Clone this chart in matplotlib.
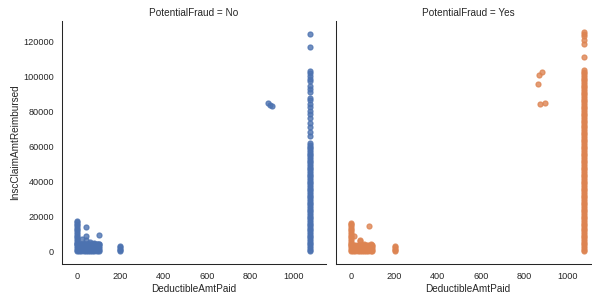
import matplotlib
matplotlib.use("Agg")
import matplotlib.pyplot as plt

# Deductible paid vs. amount reimbursed, split by PotentialFraud
FRAUD_LABELS = ["No", "Yes"]
COLORS = ["#4C72B0", "#DD8452"]
MAX_DEDUCTIBLE = 1080

# ---- PotentialFraud = No ----
# solid block of small deductibles: every x in no_block_x with every y in no_block_y
no_block_x = [0, 10, 20, 30, 40, 50, 60, 70, 80, 90, 100]
no_block_y = [0, 1000, 2000, 3000, 4000, 4500]
# single points / short columns
no_pts_x = [0, 0, 0, 0, 0, 0, 0, 0, 0, 0, 0, 0, 0, 0,
            23, 43, 43, 43, 99, 60, 80,
            200, 200, 200, 200, 200,
            885, 895, 902]
no_pts_y = [5000, 6000, 7000, 8000, 9000, 10000, 11000, 12000, 13000, 14000, 15000, 16000, 17000, 17500,
            7200, 14100, 8600, 6800, 9500, 5200, 5000,
            0, 800, 1600, 2400, 3200,
            84800, 83900, 83200]
# column at the maximum deductible
no_max_y = [124500, 117000, 103500, 102000, 100500, 99000, 97500, 95000, 93000, 91500,
            88000, 86500, 84500, 82500, 80500, 78500, 76500, 73500, 71000, 68500, 66000,
            62000, 61000, 60000, 59000, 58000, 57000, 56000, 55000, 54000, 53000,
            52000, 51000, 50000, 49000, 48000, 47000, 46000, 45000, 44000, 43000,
            42000, 41000, 40000, 39000, 38000, 37000, 36000, 35000, 34000, 33000,
            32000, 31000, 30000, 29000, 28000, 27000, 26000, 25000, 24000, 23000,
            22000, 21000, 20000, 19000, 18000, 17000, 16000, 15000, 14000, 13000,
            12000, 11000, 10000, 9000, 8000, 7000, 6000, 5000, 4000, 3000,
            2000, 1000, 0]

# ---- PotentialFraud = Yes ----
yes_block_x = [0, 10, 20, 30, 40, 50, 60, 70, 80, 90, 98]
yes_block_y = [0, 1000, 2000, 3000, 3500]
yes_pts_x = [0, 0, 0, 0, 0, 0, 0, 0, 0, 0, 0, 0, 0, 0,
             15, 40, 43, 81, 60, 90,
             205, 205, 205, 205, 205,
             870, 882, 866, 876, 896]
yes_pts_y = [4000, 5000, 6000, 7000, 8000, 9000, 10000, 11000, 12000, 13000, 14000, 15000, 16000, 16500,
             8600, 6700, 5900, 14300, 4300, 4200,
             0, 800, 1600, 2400, 3200,
             101000, 102500, 95800, 84500, 85300]
yes_max_y = [125500, 124500, 123500, 121000, 119000, 111500,
             104000, 103000, 102000, 101000, 100000, 99000, 98000, 97000, 96000, 95000,
             94000, 93000, 92000, 91000, 90000, 89000, 88000, 87000, 86000, 85000,
             84000, 83000, 82000, 81000, 80000, 79000, 78000, 77000, 76000, 75000,
             74000, 73000, 72000, 71000, 70000, 69000, 68000, 67000, 66000, 65000,
             64000, 63000, 62000, 61000, 60000, 59000, 58000, 57000, 56000, 55000,
             54000, 53000, 52000, 51000, 50000, 49000, 48000, 47000, 46000, 45000,
             44000, 43000, 42000, 41000, 40000, 39000, 38000, 37000, 36000, 35000,
             34000, 33000, 32000, 31000, 30000, 29000, 28000, 27000, 26000, 25000,
             24000, 23000, 22000, 21000, 20000, 19000, 18000, 17000, 16000, 15000,
             14000, 13000, 12000, 11000, 10000, 9000, 8000, 7000, 6000, 5000,
             4000, 3000, 2000, 1000, 0]

X_TICKS = [0, 200, 400, 600, 800, 1000]
Y_TICKS = [0, 20000, 40000, 60000, 80000, 100000, 120000]

TEXT_COLOR = "#262626"

plt.rcParams["font.family"] = ["Liberation Sans", "DejaVu Sans"]

DPI = 60
W, H = 592.0, 302.0
fig = plt.figure(figsize=(W / DPI, H / DPI), dpi=DPI)

# axes placed in pixels; the right facet runs past the edge like the cropped original
ax_no = fig.add_axes([62 / W, (H - 264) / H, 264 / W, 243 / H])
ax_yes = fig.add_axes([336 / W, (H - 264) / H, 264 / W, 243 / H], sharex=ax_no, sharey=ax_no)

panels = [
    (ax_no, no_block_x, no_block_y, no_pts_x, no_pts_y, no_max_y),
    (ax_yes, yes_block_x, yes_block_y, yes_pts_x, yes_pts_y, yes_max_y),
]

for i, (ax, block_x, block_y, pts_x, pts_y, max_y) in enumerate(panels):
    xs = [bx for bx in block_x for _ in block_y] + pts_x + [MAX_DEDUCTIBLE] * len(max_y)
    ys = [by for _ in block_x for by in block_y] + pts_y + max_y
    ax.scatter(xs, ys, s=36, color=COLORS[i], alpha=0.8, linewidths=1.5,
               edgecolors="face")
    ax.set_title(f"PotentialFraud = {FRAUD_LABELS[i]}", fontsize=12,
                 color=TEXT_COLOR)
    ax.set_xlabel("DeductibleAmtPaid", fontsize=12, color=TEXT_COLOR)
    for side in ["top", "right"]:
        ax.spines[side].set_visible(False)
    for side in ["left", "bottom"]:
        ax.spines[side].set_linewidth(1.25)
        ax.spines[side].set_color(TEXT_COLOR)
    ax.tick_params(length=0, pad=9.5, labelsize=11, labelcolor=TEXT_COLOR)

ax_no.set_xticks(X_TICKS)
ax_no.set_yticks(Y_TICKS)
ax_no.set_xlim(-70, 1152)
ax_no.set_ylim(-7200, 132000)
ax_no.set_ylabel("InscClaimAmtReimbursed", fontsize=12, color=TEXT_COLOR)
ax_yes.tick_params(labelleft=False)

plt.savefig("out.png", dpi=DPI)
plt.close()
